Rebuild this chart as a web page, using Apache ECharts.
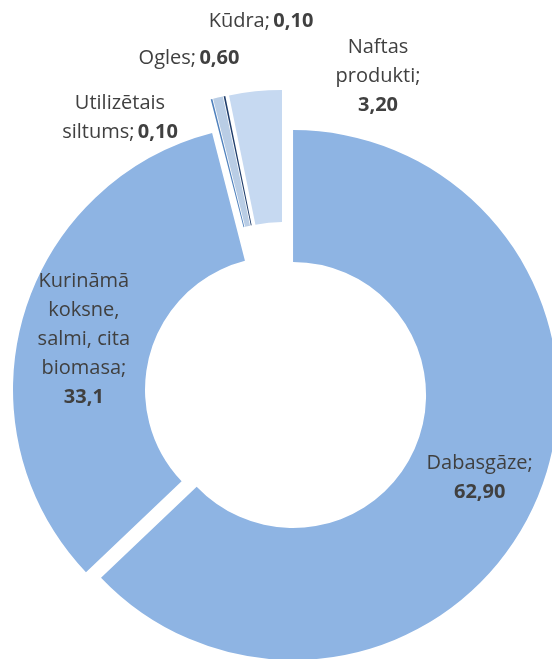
<!DOCTYPE html>
<html><head><meta charset="utf-8">
<script src="https://cdn.jsdelivr.net/npm/echarts@6/dist/echarts.min.js"></script>
<style>html,body{margin:0;padding:0;background:#fff}#c{width:552px;height:659px}</style>
</head><body><div id="c"></div>
<script>
// ---- data ----
const categories = ['Dabasgāze', 'Kurināmā\nkoksne,\nsalmi, cita\nbiomasa', 'Utilizētais\nsiltums', 'Ogles', 'Kūdra', 'Naftas\nprodukti'];
const values = [62.9, 33.1, 0.1, 0.6, 0.1, 3.2];
const decimals = [2, 1, 2, 2, 2, 2];
const valueBreak = ['\n', '\n', ' ', ' ', ' ', '\n'];

// ---- styles / layout ----
const colors = ['#8EB4E3', '#8EB4E3', '#4F81BD', '#B9CDE5', '#1F3D6B', '#C6D9F1'];
const explode = [8, 8, 37, 37, 37, 37];
const insideLabel = [true, true, false, false, false, false];
const outsideLabelPos = { 2: [120, 118], 3: [189, 58], 4: [261, 21], 5: [378, 76] };
const insideLabelShift = { 0: [1, 3], 1: [0, 5] };
const baseCenter = [285.7, 391.9];
const radius = [133, 265];

function fmt(v, d) { return v.toFixed(d).replace('.', ','); }

const total = values.reduce(function (a, b) { return a + b; }, 0);
let cum = 0;
const series = values.map(function (val, k) {
  const mid = (cum + val / 2) / total * 2 * Math.PI; // clockwise from 12 o'clock
  cum += val;
  const c = [baseCenter[0] + explode[k] * Math.sin(mid), baseCenter[1] - explode[k] * Math.cos(mid)];
  return {
    type: 'pie',
    center: c,
    radius: radius,
    startAngle: 90,
    clockwise: true,
    avoidLabelOverlap: false,
    animation: false,
    silent: true,
    emphasis: { disabled: true },
    labelLine: { show: false },
    label: {
      show: true,
      position: insideLabel[k] ? 'inside' : 'outside',
      align: 'center',
      formatter: function (p) {
        const i = p.dataIndex;
        return '{n|' + categories[i] + ';}' + valueBreak[i] + '{b|' + fmt(values[i], decimals[i]) + '}';
      },
      rich: {
        n: { fontFamily: 'Open Sans', fontSize: 20, color: '#404040', lineHeight: 29, align: 'center' },
        b: { fontFamily: 'Open Sans', fontSize: 20, fontWeight: 'bold', color: '#404040', lineHeight: 29, align: 'center' }
      }
    },
    labelLayout: function (params) {
      const p = outsideLabelPos[params.dataIndex];
      if (p) return { x: p[0], y: p[1], align: 'center', verticalAlign: 'middle' };
      const s = insideLabelShift[params.dataIndex];
      if (s) return { dx: s[0], dy: s[1] };
      return {};
    },
    data: values.map(function (v, i) {
      const on = i === k;
      return {
        name: categories[i],
        value: v,
        itemStyle: { color: on ? colors[i] : 'rgba(0,0,0,0)', borderWidth: 0 },
        label: { show: on }
      };
    })
  };
});

const chart = echarts.init(document.getElementById('c'), null, { renderer: 'canvas' });
chart.setOption({ backgroundColor: '#ffffff', animation: false, series: series });
</script>
</body></html>
